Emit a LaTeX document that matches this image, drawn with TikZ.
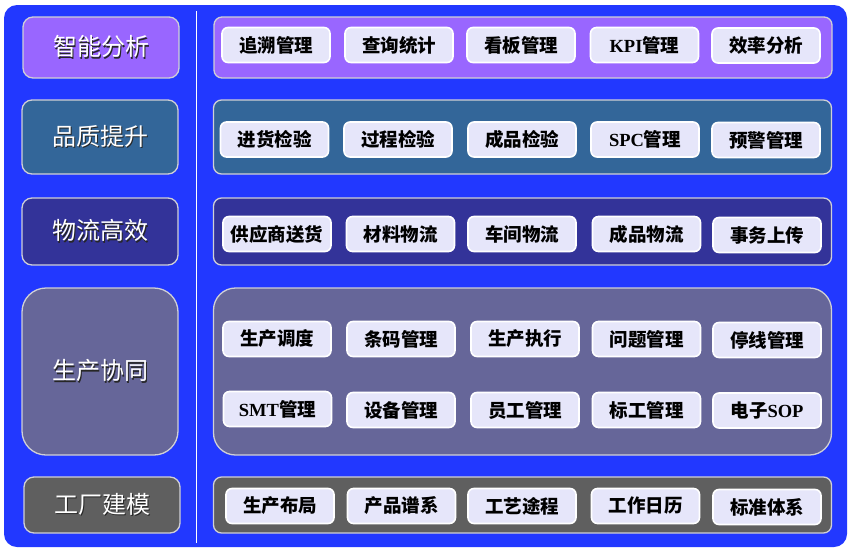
\documentclass[tikz,border=0pt]{standalone}
\usepackage{fontspec}
\setmainfont{Noto Sans CJK SC}
\newfontfamily\latf{Liberation Serif}
\usetikzlibrary{positioning}
\definecolor{outerblue}{RGB}{34,56,255}
\definecolor{cpurple}{RGB}{153,102,255}
\definecolor{csteel}{RGB}{51,102,153}
\definecolor{cnavy}{RGB}{51,51,153}
\definecolor{cslate}{RGB}{102,102,153}
\definecolor{cgrey}{RGB}{95,95,95}
\definecolor{cedge}{RGB}{208,208,214}
\definecolor{citem}{RGB}{230,230,250}
\newcommand{\shtext}[1]{\rlap{\kern1.4pt\raisebox{-1.4pt}{\color{black!85}#1}}#1}
\newcommand{\lt}[1]{{\latf\bfseries #1}}
\tikzset{
  leftbox/.style={draw=cedge, line width=1.3pt, rounded corners=10pt, minimum width=156pt, text=white, font=\fontsize{24}{26}\selectfont, inner sep=0pt},
  panel/.style={draw=cedge, line width=1.3pt, rounded corners=8pt, minimum width=618pt, inner sep=0pt},
  itembox/.style={draw=white, line width=1.6pt, fill=citem, rounded corners=6pt, minimum width=108pt, minimum height=35pt, inner sep=0pt, font=\bfseries\fontsize{18.5}{20}\selectfont, text=black}
}
\begin{document}
\begin{tikzpicture}[x=1pt,y=-1pt]
\useasboundingbox (0,0) rectangle (856,557);
\fill[outerblue, rounded corners=13pt] (4,5) rectangle (847,547);
\draw[white, line width=1.6pt] (196.5,11) coordinate (vt) -- (196.5,543) coordinate (vb);

% left labels
\node[leftbox, fill=cpurple, minimum height=61pt] (L1) at (101,47.5) {\shtext{智能分析}};
\node[leftbox, fill=csteel, minimum height=74pt] (L2) at (100,137) {\shtext{品质提升}};
\node[leftbox, fill=cnavy, minimum height=67pt] (L3) at (100,231.5) {\shtext{物流高效}};
\node[leftbox, fill=cslate, minimum height=167pt, rounded corners=24pt] (L4) at (100,371.5) {\shtext{生产协同}};
\node[leftbox, fill=cgrey, minimum height=56pt] (L5) at (102,505) {\shtext{工厂建模}};

% panels
\node[panel, fill=cpurple, minimum height=61pt] (P1) at (523,47.5) {};
\node[panel, fill=csteel, minimum height=74pt] (P2) at (522.5,137) {};
\node[panel, fill=cnavy, minimum height=67pt] (P3) at (522.5,231.5) {};
\node[panel, fill=cslate, minimum height=167pt, rounded corners=22pt] (P4) at (522.5,371.5) {};
\node[panel, fill=cgrey, minimum height=56pt] (P5) at (522.5,505) {};

% row 1
\node[itembox] (a1) at (276,45) {追溯管理};
\node[itembox] (a2) at (399,45) {查询统计};
\node[itembox] (a3) at (521,45) {看板管理};
\node[itembox] (a4) at (644.5,45) {\lt{KPI}管理};
\node[itembox] (a5) at (766,45.5) {效率分析};
% row 2
\node[itembox] (b1) at (274.5,139.5) {进货检验};
\node[itembox] (b2) at (398,139.5) {过程检验};
\node[itembox] (b3) at (522,139.5) {成品检验};
\node[itembox] (b4) at (645,139.5) {\lt{SPC}管理};
\node[itembox] (b5) at (766,140) {预警管理};
% row 3
\node[itembox] (c1) at (277,234) {供应商送货};
\node[itembox] (c2) at (400.5,234) {材料物流};
\node[itembox] (c3) at (522,234) {车间物流};
\node[itembox] (c4) at (646.5,234) {成品物流};
\node[itembox] (c5) at (767,235) {事务上传};
% row 4a
\node[itembox] (d1) at (277,339) {生产调度};
\node[itembox] (d2) at (401,339) {条码管理};
\node[itembox] (d3) at (525,339) {生产执行};
\node[itembox] (d4) at (646.5,339) {问题管理};
\node[itembox] (d5) at (767,340) {停线管理};
% row 4b
\node[itembox] (e1) at (277.5,409) {\lt{SMT}管理};
\node[itembox] (e2) at (401,410) {设备管理};
\node[itembox] (e3) at (525,410) {员工管理};
\node[itembox] (e4) at (646.5,410) {标工管理};
\node[itembox] (e5) at (767,410.5) {电子\lt{SOP}};
% row 5
\node[itembox] (f1) at (280,506) {生产布局};
\node[itembox] (f2) at (401.5,506) {产品谱系};
\node[itembox] (f3) at (522,506) {工艺途程};
\node[itembox] (f4) at (645.5,506) {工作日历};
\node[itembox] (f5) at (767,507) {标准体系};
\end{tikzpicture}
\end{document}
